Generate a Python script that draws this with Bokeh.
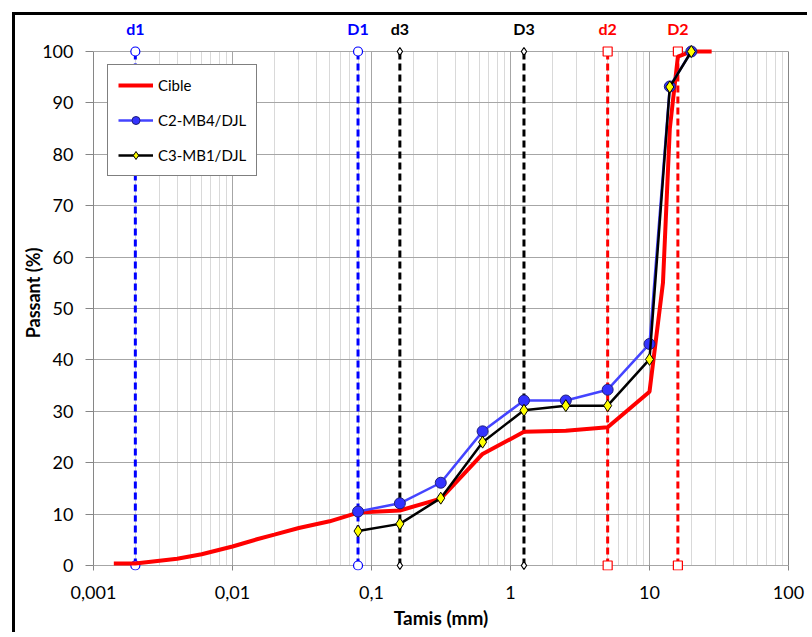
from bokeh.plotting import figure
from bokeh.models import ColumnDataSource, FixedTicker, LinearAxis, Legend
from bokeh.core.properties import value
from bokeh.embed import file_html
from bokeh.resources import INLINE

# ---------------- data ----------------
cible_x = [0.0014, 0.002, 0.004, 0.006, 0.01, 0.015, 0.02, 0.03, 0.05, 0.08,
           0.16, 0.315, 0.63, 1.25, 2.5, 5, 10, 12.5, 14, 16, 20, 28]
cible_y = [0.4, 0.4, 1.3, 2.2, 3.7, 5.1, 6.0, 7.3, 8.6, 10.3,
           10.7, 13.0, 21.7, 26.0, 26.2, 26.9, 33.8, 55.0, 85.0, 99.0, 100, 100]

sieve_x = [0.08, 0.16, 0.315, 0.63, 1.25, 2.5, 5, 10, 14, 20]
c2_y = [10.5, 12.1, 16.1, 26.1, 32.1, 32.1, 34.2, 43.1, 93.2, 100]
c3_y = [6.7, 8.1, 13.1, 24.0, 30.2, 31.1, 31.1, 40.1, 93.1, 100]

divider_labels = ["d1", "D1", "d3", "D3", "d2", "D2"]
divider_x = [0.002, 0.08, 0.16, 1.25, 5, 16]

x_ticks = [0.001, 0.01, 0.1, 1, 10, 100]
x_tick_labels = ["0,001", "0,01", "0,1", "1", "10", "100"]
y_ticks = [0, 10, 20, 30, 40, 50, 60, 70, 80, 90, 100]

# ---------------- styles ----------------
FONT = "Lato"
GRID = "#a6a6a6"
MINOR = "#d9d9d9"
AXIS = "#868686"
div_colors = ["#0000ff", "#0000ff", "#000000", "#000000", "#ff0000", "#ff0000"]
div_markers = ["circle", "circle", "diamond", "diamond", "square", "square"]
div_sizes = [9, 9, 8, 8, 9, 9]

PX_PER_UNIT = 514 / 100.0          # vertical scale (px per % unit)
y_lo = -5 / PX_PER_UNIT            # room for the markers sitting on 0
y_hi = 100 + 36 / PX_PER_UNIT      # room above 100 for the d/D labels
label_y = 100 + 23 / PX_PER_UNIT

p = figure(width=795, height=620, x_axis_type="log",
           x_range=(0.001, 100), y_range=(y_lo, y_hi),
           output_backend="svg", toolbar_location=None,
           min_border_left=78, min_border_right=22,
           min_border_top=0, min_border_bottom=65)
p.styles = {"margin-left": "12px", "margin-top": "12px",
            "border-left": "3px solid black", "border-top": "3px solid black"}
p.outline_line_color = None
p.background_fill_color = "white"
p.border_fill_color = "white"

# grids
minor = [m * 10.0 ** e for e in range(-3, 2) for m in range(2, 10)]
p.xaxis.ticker = FixedTicker(ticks=x_ticks, minor_ticks=minor)
p.yaxis.ticker = FixedTicker(ticks=y_ticks)
p.xgrid.grid_line_color = GRID
p.xgrid.minor_grid_line_color = MINOR
p.xgrid.cross_bounds = (0, 100)
p.ygrid.grid_line_color = GRID

# x axis
xa = p.xaxis[0]
xa.major_label_overrides = {t: l for t, l in zip(x_ticks, x_tick_labels)}
xa.axis_line_color = None
xa.major_tick_in = 5
xa.major_tick_out = 0
xa.major_tick_line_color = AXIS
xa.minor_tick_line_color = None
xa.major_label_standoff = 11
xa.major_label_text_font = FONT
xa.major_label_text_font_size = "18px"
xa.major_label_text_color = "black"
xa.axis_label = "Tamis (mm)"
xa.axis_label_text_font = FONT
xa.axis_label_text_font_style = "bold"
xa.axis_label_text_font_size = "19px"
xa.axis_label_text_color = "black"
xa.axis_label_standoff = 4

# y axis
ya = p.yaxis[0]
ya.bounds = (0, 100)
ya.axis_line_color = AXIS
ya.major_tick_in = 0
ya.major_tick_out = 8
ya.major_tick_line_color = AXIS
ya.minor_tick_line_color = None
ya.major_label_standoff = 12
ya.major_label_text_font = FONT
ya.major_label_text_font_size = "18px"
ya.major_label_text_color = "black"
ya.axis_label = "Passant (%)"
ya.axis_label_text_font = FONT
ya.axis_label_text_font_style = "bold"
ya.axis_label_text_font_size = "18px"
ya.axis_label_text_color = "black"
ya.axis_label_standoff = -5

# right edge line of the plot area
ra = LinearAxis(bounds=(0, 100), ticker=FixedTicker(ticks=[]),
                axis_line_color=AXIS, major_tick_line_color=None,
                minor_tick_line_color=None, major_label_text_font_size="0px",
                major_label_standoff=0)
p.add_layout(ra, "right")

# divider lines (d1/D1, d3/D3, d2/D2)
n = len(divider_x)
dsrc = ColumnDataSource(dict(x=divider_x, color=div_colors, label=divider_labels,
                             y0=[0] * n, y1=[100] * n, ly=[label_y] * n))
p.segment(x0="x", y0="y0", x1="x", y1="y1", source=dsrc, line_color="color",
          line_width=3, line_dash="7 4")
msrc = ColumnDataSource(dict(x=divider_x + divider_x,
                             y=[0] * n + [100] * n,
                             color=div_colors * 2, marker=div_markers * 2,
                             size=div_sizes * 2))
p.scatter(x="x", y="y", source=msrc, marker="marker", size="size",
          fill_color="white", line_color="color", line_width=1.2)
p.text(x="x", y="ly", text="label", source=dsrc, text_color="color",
       text_font=value(FONT), text_font_style="bold", text_font_size="16px",
       text_align="center", text_baseline="middle")

# series
r_c = p.line(cible_x, cible_y, line_color="#ff0000", line_width=4)
r_b = p.line(sieve_x, c2_y, line_color="#4444ff", line_width=2.5)
r_bm = p.scatter(sieve_x, c2_y, marker="circle", size=11, fill_color="#3333ff",
                 line_color="#1f1f7a", line_width=1)
r_k = p.line(sieve_x, c3_y, line_color="black", line_width=2.5)
r_km = p.scatter(sieve_x, c3_y, marker="diamond", size=12, fill_color="#ffff00",
                 line_color="black", line_width=1)

legend = Legend(items=[("Cible", [r_c]), ("C2-MB4/DJL", [r_b, r_bm]),
                       ("C3-MB1/DJL", [r_k, r_km])],
                location=(14, 394))
legend.border_line_color = "black"
legend.border_line_width = 1
legend.background_fill_color = "white"
legend.background_fill_alpha = 1
legend.label_text_font = FONT
legend.label_text_font_size = "15px"
legend.label_text_color = "black"
legend.label_height = 20
legend.glyph_height = 20
legend.glyph_width = 35
legend.spacing = 15
legend.padding = 10
legend.margin = 0
legend.label_standoff = 5
p.add_layout(legend, "center")

open("out.html", "w").write(file_html(p, INLINE))
